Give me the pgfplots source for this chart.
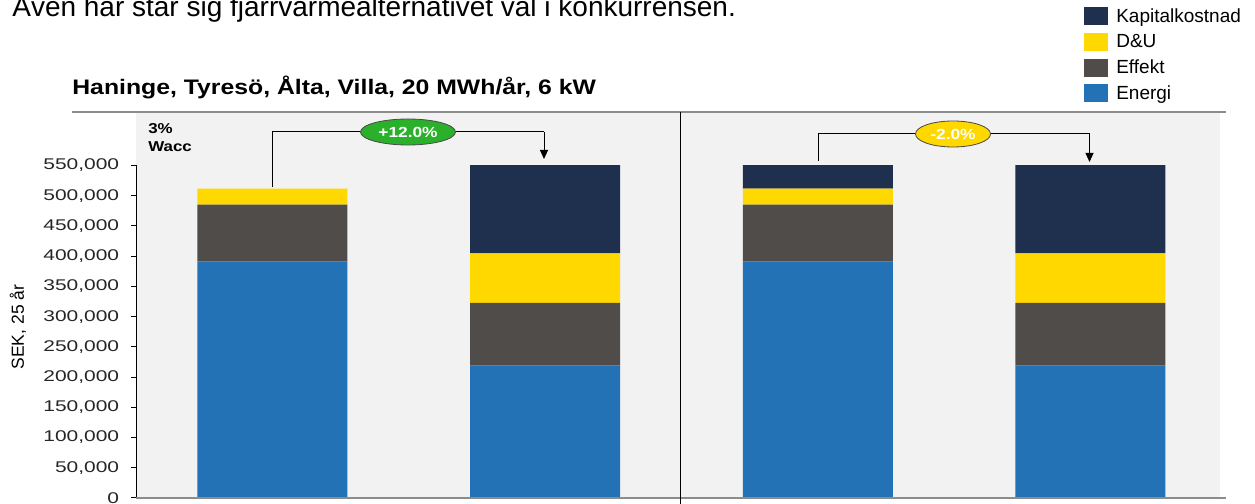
\documentclass[border=0pt]{standalone}
\usepackage{pgfplots}
\pgfplotsset{compat=1.18}
\usepackage{fontspec}
\setmainfont{Liberation Sans}
\newfontfamily\wideb[FakeStretch=1.18]{Liberation Sans}
\newfontfamily\widet[FakeStretch=1.35]{Liberation Sans}
\usetikzlibrary{shapes.geometric,arrows.meta}
\definecolor{kap}{HTML}{1F304E}
\definecolor{du}{HTML}{FFD800}
\definecolor{eff}{HTML}{504C49}
\definecolor{ene}{HTML}{2272B5}
\definecolor{bg}{HTML}{F2F2F2}
\definecolor{grn}{HTML}{2BB02B}
\definecolor{gl}{HTML}{8C8C8C}
\begin{document}
\begin{tikzpicture}[x=0.6pt,y=0.6pt]
\useasboundingbox (0,0) rectangle (1255,504);
\clip (0,0) rectangle (1255,504);
\fill[bg] (136,6) rectangle (1220,392);
\node[anchor=base west, inner sep=0, font=\fontsize{16.8}{18}\selectfont] at (12,487) {Även här står sig fjärrvärmealternativet väl i konkurrensen.};
\node[anchor=base west, inner sep=0, font=\wideb\bfseries\fontsize{12.6}{14}\selectfont] at (72,409) {Haninge, Tyresö, Ålta, Villa, 20 MWh/år, 6 kW};
\begin{axis}[at={(81.6pt,3.6pt)}, anchor=south west, scale only axis,
  width=650.4pt, height=199.56pt,
  ybar stacked, bar width=0.55,
  xmin=-0.5, xmax=3.475, ymin=0, ymax=550000,
  axis x line=none, axis y line*=left,
  y axis line style={black, line width=0.6pt, -},
  ytick={0,50000,...,550000}, xtick=\empty,
  tick align=outside, major tick length=3pt,
  tick style={black, line width=0.6pt},
  yticklabel style={font=\widet\fontsize{9.3}{11}\selectfont, text=black!85, xshift=-3.6pt},
  scaled y ticks=false,
  /pgf/number format/.cd, fixed, 1000 sep={,}, assume math mode=true, /pgfplots/.cd,
  ylabel={SEK, 25 år},
  ylabel style={at={(axis description cs:-0.1089,0.514)}, anchor=center, font=\fontsize{10.5}{12}\selectfont},
  legend style={at={(axis description cs:0.8745,1.476)}, anchor=north west, draw=none, fill=none,
    inner sep=0pt, row sep=4.6pt, font=\fontsize{11.4}{13}\selectfont,
    /tikz/every odd column/.append style={column sep=4.8pt}, nodes={inner sep=0pt}},
  legend image code/.code={\fill[#1] (0pt,-5.4pt) rectangle (14.4pt,5.4pt);},
  reverse legend, legend cell align=left,
]
\addplot[fill=ene, draw=none] coordinates {(0,391000) (1,219000) (2,391000) (3,219000)};
\addplot[fill=eff, draw=none] coordinates {(0,94000) (1,103500) (2,94000) (3,103500)};
\addplot[fill=du, draw=none] coordinates {(0,26500) (1,82000) (2,26500) (3,82000)};
\addplot[fill=kap, draw=none] coordinates {(0,0) (1,168500) (2,73200) (3,168500)};
\legend{Energi, Effekt, D\&U, Kapitalkostnad}
\end{axis}
\draw[gl, line width=1.2pt] (72,392) -- (1226,392);
\draw[gl, line width=1.2pt] (136,6) -- (1226,6);
\draw[black, line width=0.6pt] (680,392) -- (680,-5);
\node[anchor=base west, inner sep=0, font=\wideb\bfseries\fontsize{8.6}{10}\selectfont] at (148,370) {3\%};
\node[anchor=base west, inner sep=0, font=\wideb\bfseries\fontsize{8.6}{10}\selectfont] at (148,352) {Wacc};
\draw[black, line width=0.6pt] (272,317) -- (272,372) -- (544,372);
\draw[black, line width=0.6pt, -{Triangle[width=4.8pt,length=5.4pt]}] (544,372) -- (544,345);
\node[ellipse, fill=grn, draw=black!70, line width=0.5pt, minimum width=57pt, minimum height=15.6pt, inner sep=0pt, text=white, font=\wideb\bfseries\fontsize{8.8}{10}\selectfont] at (408,372) {+12.0\%};
\draw[black, line width=0.6pt] (818,343) -- (818,370) -- (1089.5,370);
\draw[black, line width=0.6pt, -{Triangle[width=4.8pt,length=5.4pt]}] (1089.5,370) -- (1089.5,342);
\node[ellipse, fill=du, draw=black!70, line width=0.5pt, minimum width=45pt, minimum height=15.6pt, inner sep=0pt, text=white, font=\wideb\bfseries\fontsize{8.8}{10}\selectfont] at (953,370) {-2.0\%};
\end{tikzpicture}
\end{document}
